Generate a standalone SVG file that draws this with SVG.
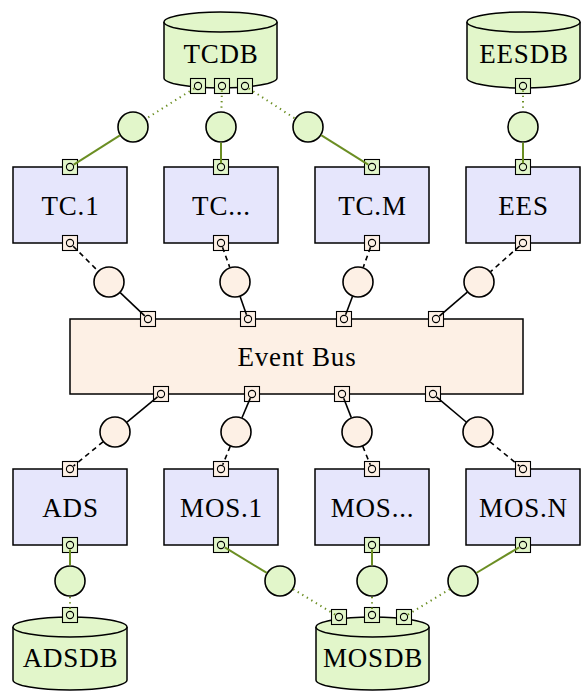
<svg xmlns="http://www.w3.org/2000/svg" width="584" height="692" viewBox="0 0 584 692">
<defs>
<style>
.box{fill:#e6e6fc;stroke:#000;stroke-width:1.5}
.db{fill:#e2f6ca;stroke:#000;stroke-width:1.5}
.bus{fill:#fdf0e5;stroke:#000;stroke-width:1.5}
.lbl{font-family:"Liberation Serif","DejaVu Serif",serif;font-size:27px;letter-spacing:0.8px;text-anchor:middle;fill:#000}
.pg{fill:#e2f6ca;stroke:#000;stroke-width:1.1}
.po{fill:#fdf0e5;stroke:#000;stroke-width:1.1}
.bg{fill:#e2f6ca;stroke:#000;stroke-width:1.6}
.bo{fill:#fdf0e5;stroke:#000;stroke-width:1.6}
.gs{stroke:#6b8e23;stroke-width:2;fill:none}
.gd{stroke:#6b8e23;stroke-width:2;fill:none;stroke-dasharray:1.3 4}
.ks{stroke:#000;stroke-width:1.6;fill:none}
.kd{stroke:#000;stroke-width:1.6;fill:none;stroke-dasharray:5 4}
</style>
<g id="pg"><rect x="-7.5" y="-7.5" width="15" height="15"/><circle r="3.6"/></g>
</defs>

<!-- Databases -->
<g id="TCDB">
<path class="db" d="M164,22 A56.5,10 0 0 1 277,22 L277,78 A56.5,10 0 0 1 164,78 Z"/>
<path class="db" d="M164,22 A56.5,10 0 0 0 277,22"/>
<text class="lbl" x="221" y="63">TCDB</text>
<g class="pg"><use href="#pg" x="198" y="86"/><use href="#pg" x="222" y="86"/><use href="#pg" x="245" y="86"/></g>
</g>
<g id="EESDB">
<path class="db" d="M467,22 A56.5,10 0 0 1 580,22 L580,78 A56.5,10 0 0 1 467,78 Z"/>
<path class="db" d="M467,22 A56.5,10 0 0 0 580,22"/>
<text class="lbl" x="524" y="63">EESDB</text>
<g class="pg"><use href="#pg" x="523" y="86"/></g>
</g>
<g id="ADSDB">
<path class="db" d="M13,627 A57,10 0 0 1 127,627 L127,680 A57,10 0 0 1 13,680 Z"/>
<path class="db" d="M13,627 A57,10 0 0 0 127,627"/>
<text class="lbl" x="70.5" y="667">ADSDB</text>
<g class="pg"><use href="#pg" x="70" y="615"/></g>
</g>
<g id="MOSDB">
<path class="db" d="M316,627 A56.5,10 0 0 1 429,627 L429,680 A56.5,10 0 0 1 316,680 Z"/>
<path class="db" d="M316,627 A56.5,10 0 0 0 429,627"/>
<text class="lbl" x="373" y="667">MOSDB</text>
<g class="pg"><use href="#pg" x="339" y="617"/><use href="#pg" x="372" y="615"/><use href="#pg" x="404" y="617"/></g>
</g>

<!-- Components -->
<g id="TC1">
<rect class="box" x="13" y="167" width="114" height="76"/>
<text class="lbl" x="70.5" y="215">TC.1</text>
<g class="pg"><use href="#pg" x="70" y="167"/></g>
<g class="po"><use href="#pg" x="70" y="243"/></g>
</g>
<g id="TCdots">
<rect class="box" x="164" y="167" width="114" height="76"/>
<text class="lbl" x="221.5" y="215">TC...</text>
<g class="pg"><use href="#pg" x="221" y="167"/></g>
<g class="po"><use href="#pg" x="221" y="243"/></g>
</g>
<g id="TCM">
<rect class="box" x="315" y="167" width="114" height="76"/>
<text class="lbl" x="372.5" y="215">TC.M</text>
<g class="pg"><use href="#pg" x="372" y="167"/></g>
<g class="po"><use href="#pg" x="372" y="243"/></g>
</g>
<g id="EES">
<rect class="box" x="466" y="167" width="114" height="76"/>
<text class="lbl" x="523.5" y="215">EES</text>
<g class="pg"><use href="#pg" x="523" y="167"/></g>
<g class="po"><use href="#pg" x="523" y="243"/></g>
</g>

<g id="EventBus">
<rect class="bus" x="70" y="319" width="453" height="75"/>
<text class="lbl" x="297" y="366">Event Bus</text>
<g class="po">
<use href="#pg" x="148" y="319"/><use href="#pg" x="248" y="319"/><use href="#pg" x="344" y="319"/><use href="#pg" x="436" y="319"/>
<use href="#pg" x="161" y="394"/><use href="#pg" x="252" y="394"/><use href="#pg" x="342" y="394"/><use href="#pg" x="433" y="394"/>
</g>
</g>

<g id="ADS">
<rect class="box" x="13" y="469" width="114" height="76"/>
<text class="lbl" x="70.5" y="517">ADS</text>
<g class="po"><use href="#pg" x="70" y="469"/></g>
<g class="pg"><use href="#pg" x="70" y="545"/></g>
</g>
<g id="MOS1">
<rect class="box" x="164" y="469" width="114" height="76"/>
<text class="lbl" x="221.5" y="517">MOS.1</text>
<g class="po"><use href="#pg" x="221" y="469"/></g>
<g class="pg"><use href="#pg" x="221" y="545"/></g>
</g>
<g id="MOSdots">
<rect class="box" x="315" y="469" width="114" height="76"/>
<text class="lbl" x="372.5" y="517">MOS...</text>
<g class="po"><use href="#pg" x="372" y="469"/></g>
<g class="pg"><use href="#pg" x="372" y="545"/></g>
</g>
<g id="MOSN">
<rect class="box" x="466" y="469" width="114" height="76"/>
<text class="lbl" x="523.5" y="517">MOS.N</text>
<g class="po"><use href="#pg" x="523" y="469"/></g>
<g class="pg"><use href="#pg" x="523" y="545"/></g>
</g>

<!-- Interface balls -->
<g id="balls">
<circle class="bg" cx="133" cy="127" r="15"/>
<circle class="bg" cx="221" cy="127" r="15"/>
<circle class="bg" cx="308" cy="127" r="15"/>
<circle class="bg" cx="523" cy="127" r="15"/>
<circle class="bo" cx="109" cy="282" r="15"/>
<circle class="bo" cx="235" cy="282" r="15"/>
<circle class="bo" cx="358" cy="282" r="15"/>
<circle class="bo" cx="479" cy="282" r="15"/>
<circle class="bo" cx="115" cy="432" r="15"/>
<circle class="bo" cx="236" cy="432" r="15"/>
<circle class="bo" cx="357" cy="432" r="15"/>
<circle class="bo" cx="478" cy="432" r="15"/>
<circle class="bg" cx="70" cy="581" r="15"/>
<circle class="bg" cx="280" cy="581" r="15"/>
<circle class="bg" cx="372" cy="581" r="15"/>
<circle class="bg" cx="463" cy="581" r="15"/>
</g>

<!-- Connectors -->
<g id="connectors">
<line class="gd" x1="194.2" y1="88.4" x2="146.1" y2="118.7"/>
<line class="gs" x1="119.9" y1="135.3" x2="73.8" y2="164.6"/>
<line class="gd" x1="221.9" y1="90.5" x2="221.4" y2="111.5"/>
<line class="gs" x1="221" y1="142.5" x2="221" y2="163.5"/>
<line class="gd" x1="248.8" y1="88.5" x2="295" y2="118.5"/>
<line class="gs" x1="321.1" y1="135.2" x2="368.2" y2="164.6"/>
<line class="gd" x1="523" y1="90.5" x2="523" y2="111.5"/>
<line class="gs" x1="523" y1="142.5" x2="523" y2="163.5"/>

<line class="kd" x1="73.2" y1="246.2" x2="98" y2="271"/>
<line class="ks" x1="120.2" y1="292.7" x2="144.7" y2="315.9"/>
<line class="kd" x1="222.5" y1="247.2" x2="229.8" y2="267.4"/>
<line class="ks" x1="240.1" y1="296.6" x2="246.5" y2="314.8"/>
<line class="kd" x1="370.5" y1="247.2" x2="363.2" y2="267.4"/>
<line class="ks" x1="352.5" y1="296.5" x2="345.6" y2="314.8"/>
<line class="kd" x1="519.6" y1="246" x2="490.6" y2="271.7"/>
<line class="ks" x1="467.3" y1="292.1" x2="439.4" y2="316.1"/>

<line class="ks" x1="157.5" y1="396.9" x2="127" y2="422.1"/>
<line class="kd" x1="103" y1="441.8" x2="73.5" y2="466.1"/>
<line class="ks" x1="250.3" y1="398.1" x2="242" y2="417.7"/>
<line class="kd" x1="230.2" y1="446.4" x2="222.7" y2="464.8"/>
<line class="ks" x1="343.7" y1="398.2" x2="351.3" y2="417.6"/>
<line class="kd" x1="362.8" y1="446.4" x2="370.3" y2="464.8"/>
<line class="ks" x1="436.4" y1="396.9" x2="466.2" y2="422"/>
<line class="kd" x1="490" y1="441.8" x2="519.5" y2="466.1"/>

<line class="gs" x1="70" y1="549.5" x2="70" y2="565.5"/>
<line class="gd" x1="70" y1="597" x2="70" y2="610.5"/>
<line class="gs" x1="224.8" y1="547.3" x2="266.8" y2="572.9"/>
<line class="gd" x1="293.2" y1="589.1" x2="335.2" y2="614.7"/>
<line class="gs" x1="372" y1="549.5" x2="372" y2="565.5"/>
<line class="gd" x1="372" y1="597" x2="372" y2="610.5"/>
<line class="gs" x1="519.1" y1="547.3" x2="476.3" y2="573"/>
<line class="gd" x1="449.8" y1="589.1" x2="407.8" y2="614.7"/>
</g>
</svg>
